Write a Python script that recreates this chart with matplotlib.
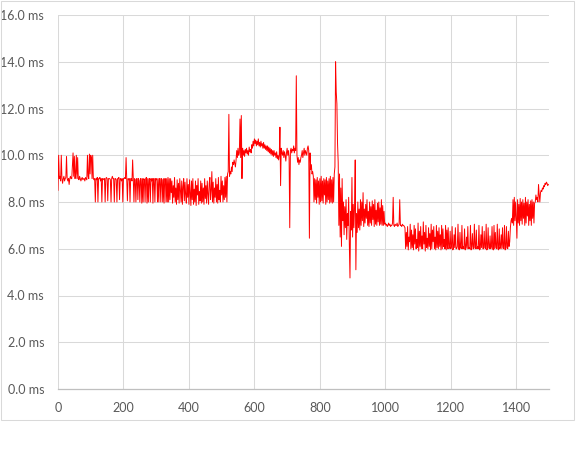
import numpy as np
import matplotlib
matplotlib.use("Agg")
import matplotlib.pyplot as plt
from matplotlib.patches import Rectangle

# ---- data: sample index (step 2) -> latency in ms ----
seg1_start = 0
seg1 = [8.5, 10.0, 9.0, 9.1, 8.9, 10.0, 9.0, 8.8, 9.0, 9.1, 8.9, 9.0, 9.05, 9.95, 9.0, 8.9,
        9.0, 8.75, 9.0, 9.1, 9.0, 9.0, 9.6, 10.1, 9.1, 9.95, 9.0, 9.2, 10.0, 9.0, 9.9, 9.0,
        8.95, 9.1, 9.0, 8.9, 9.0, 9.05, 8.95, 9.0, 9.0, 8.9, 9.05, 9.0, 8.95, 10.0, 9.1, 9.0,
        10.05, 9.2, 10.0, 9.9, 9.0, 10.0, 9.0, 8.95]

seg2_start = 112
seg2 = [9.0, 8.0, 9.0, 8.95, 9.05, 8.0, 9.0, 9.0, 9.05, 8.9, 9.0, 8.0, 9.0, 9.0, 8.95, 9.0,
        8.0, 9.0, 9.05, 9.0, 8.05, 9.0, 9.0, 9.0, 8.95, 8.0, 9.0, 9.1, 9.0, 9.0, 8.0, 9.0,
        9.0, 8.95, 8.0, 9.0, 9.0, 9.05, 8.1, 9.0, 9.0, 8.9, 9.0, 8.0, 9.0, 9.0, 9.05, 9.0,
        9.9, 9.0, 8.05, 9.0, 8.95, 9.0, 8.0, 9.0, 9.0, 8.9, 9.8, 9.0, 8.0, 9.0, 8.95, 8.0,
        9.0, 9.0, 8.1, 9.0, 8.9, 8.0, 9.0, 9.0, 7.95, 9.0, 8.0, 9.0, 8.95, 8.0, 9.0, 9.05,
        7.95, 9.0, 8.0, 9.0, 9.0, 8.0, 9.0, 8.9, 9.0, 7.95, 9.0, 9.0, 8.0, 9.0, 8.95, 9.0,
        8.0, 9.0, 8.0, 9.0, 9.0, 8.0, 9.0, 8.95, 8.0, 9.0, 7.95, 9.0, 9.0, 8.0, 9.0, 8.0,
        9.05, 8.0, 9.0]

seg3_start = 342
seg3 = [8.1, 9.0, 8.4, 8.9, 7.95, 8.7, 8.2, 9.05, 8.0, 8.6, 7.9, 8.95, 8.1, 8.8, 7.95, 9.0,
        8.5, 8.0, 8.9, 7.9, 8.65, 9.0, 8.05, 8.85, 8.3, 7.95, 9.0, 8.2, 8.75, 7.9, 8.95, 8.4,
        7.85, 8.9, 8.1, 9.0, 7.9, 8.55, 8.0, 8.9, 7.85, 8.7, 8.3, 9.0, 7.9, 8.45, 8.05, 8.9,
        7.95, 8.8, 8.0, 8.6, 7.9, 9.0, 8.15, 8.7, 7.95, 8.9, 8.35, 7.9, 8.8, 9.05, 8.1, 8.5,
        9.3, 8.0, 8.85, 7.95, 8.6, 8.2, 9.0, 8.0, 8.75, 7.95, 9.05, 8.1, 8.5, 8.0, 9.1, 8.3,
        8.9, 8.0, 8.7, 8.1, 9.05, 8.2, 9.1, 8.0, 9.2, 9.3]

seg4_start = 522
seg4 = [11.75, 9.1, 9.3, 9.2, 9.5, 9.3, 9.7, 9.6, 9.8, 9.65, 9.5, 9.8, 10.2, 9.9, 10.3, 10.0,
        10.1, 11.55, 9.9, 11.7, 9.0,
        10.3, 10.0, 10.2, 9.95, 10.25, 10.1, 10.3, 10.05, 10.2, 10.0, 10.35, 10.15, 10.25,
        10.1, 10.45, 10.3, 10.6, 10.4, 10.7, 10.5, 10.65, 10.4, 10.6, 10.45, 10.7, 10.4,
        10.55, 10.35, 10.6, 10.4, 10.5, 10.3, 10.55, 10.3, 10.45, 10.25, 10.4, 10.2, 10.4,
        10.15, 10.35, 10.1, 10.3, 10.05, 10.25, 10.0, 10.2, 9.95, 10.2, 10.0, 10.1, 9.9,
        10.15, 9.85, 10.0, 9.8, 10.0,
        11.2, 8.7, 10.3, 10.1, 10.0, 10.2, 9.9, 10.15, 10.0, 9.75, 10.1, 10.3, 10.0, 10.2,
        9.9, 6.9, 10.2, 10.3, 10.1, 10.25, 10.2, 10.4, 10.1, 10.3, 10.2, 13.4, 10.0, 9.7,
        9.9, 9.6, 9.8, 9.7, 9.9, 10.0, 10.2, 9.9, 10.1, 10.3, 10.0, 10.2, 10.1, 10.0, 10.3,
        10.4, 10.2, 6.45, 10.1, 9.4, 9.6, 9.2, 9.3, 9.1]

seg5_start = 782
seg5 = [8.0, 9.0, 8.1, 8.95, 7.95, 9.05, 8.2, 8.9, 7.9, 9.0, 8.0, 9.1, 8.05, 8.9, 7.95, 9.0,
        8.3, 8.95, 7.9, 9.05, 8.0, 8.9, 8.1, 9.0, 7.95, 9.1, 8.0, 8.95, 7.95, 9.05, 8.0, 9.2,
        9.5]

seg6_start = 848
seg6 = [14.0, 12.7, 12.2, 10.5, 9.7, 7.0, 9.2, 6.5, 8.6, 6.1, 9.0, 7.2, 8.0, 6.6, 7.8, 6.9,
        8.1, 6.4, 7.5, 7.0, 8.2, 6.2, 4.75, 7.6, 6.8, 9.05, 6.5, 7.9, 6.9, 7.8, 9.8, 5.1, 7.5,
        6.7, 8.0, 6.9, 7.7, 6.8, 8.1]

seg7_start = 926
seg7 = [7.0, 8.0, 7.2, 8.4, 6.95, 7.7, 7.1, 7.9, 7.3, 8.1, 7.0, 7.6, 6.95, 8.0, 7.1, 7.8,
        7.0, 8.05, 7.25, 7.9, 6.95, 8.1, 7.05, 7.65, 7.0, 7.95, 7.15, 8.0, 7.0, 7.75, 7.05,
        8.1, 7.0, 7.85, 7.0, 7.6, 7.05, 7.1]

seg8_start = 1002
seg8 = [7.0, 7.05, 6.95, 7.0, 7.1, 7.0, 7.05, 6.95, 7.0, 7.0, 7.1, 8.2, 7.0, 6.95, 7.05, 7.0,
        7.0, 7.1, 6.95, 7.0, 7.05, 8.1, 7.0, 7.0, 6.95, 7.05, 7.0, 7.0, 6.95]

seg9_start = 1060
seg9 = [6.9, 6.0, 6.7, 6.1, 6.95, 5.95, 6.5, 6.3, 7.05, 6.0, 6.8, 6.05, 6.6, 5.95, 7.0, 6.2,
        6.85, 6.0, 6.4, 6.05, 7.1, 5.9, 6.75, 6.1, 6.95, 6.0, 6.55, 6.0, 7.15, 6.2, 6.7, 5.9,
        7.0, 6.05, 6.45, 6.0, 6.9, 6.1, 6.65, 5.95, 7.05, 6.0, 6.8, 6.3, 6.95, 6.0, 6.5, 5.95,
        7.0, 6.05, 6.75, 6.0, 6.9, 6.1, 6.6, 5.95, 7.0, 6.0, 6.85, 6.1, 6.4, 6.0, 7.0, 5.95,
        6.8, 6.0]

seg10_start = 1192
seg10 = [6.9, 6.0, 6.05, 6.75, 6.0, 6.1, 6.95, 5.95, 6.0, 6.6, 6.05, 6.9, 6.0, 6.0, 6.1, 7.05,
         6.0, 5.95, 6.7, 6.05, 6.0, 7.0, 6.0, 6.1, 6.0, 6.85, 5.95, 6.05, 6.5, 6.0, 6.95, 6.0,
         6.05, 6.0, 7.0, 5.95, 6.1, 6.65, 6.0, 6.0, 7.05, 6.05, 6.0, 6.8, 6.0, 6.1, 6.0, 7.0,
         5.95, 6.0, 6.6, 6.05, 6.95, 6.0, 6.0, 6.75, 6.05, 6.0, 7.05, 5.95, 6.0, 6.9, 6.05, 6.0,
         6.55, 6.0, 6.1, 6.95, 6.0, 5.95, 7.0, 6.0, 6.7, 6.05, 6.0, 7.05, 6.0, 5.95, 6.85, 6.0,
         6.1, 6.6, 6.0, 6.9, 6.05, 6.0, 7.0, 5.95, 6.0, 6.95, 6.05, 6.0, 6.75, 6.1, 6.3]

seg11_start = 1382
seg11 = [6.9, 7.2, 7.3, 7.1, 8.1, 7.0, 8.2, 7.2, 8.0, 7.3, 6.45, 8.1, 7.1, 7.9, 7.0, 8.15,
         7.2, 8.0, 7.05, 8.1, 7.3, 7.95, 7.0, 8.2, 7.1, 8.0, 7.4, 8.1, 7.0, 7.9, 7.2, 8.05,
         7.0, 8.1, 7.3, 8.0, 7.1, 7.95, 8.0, 8.3, 8.1, 8.2, 8.0, 8.75, 8.3, 8.0, 8.4, 8.5,
         8.45, 8.6, 8.55, 8.7, 8.65, 8.8, 8.75, 8.85, 8.8, 8.7, 8.75]

step = 2
segments = [(seg1_start, seg1), (seg2_start, seg2), (seg3_start, seg3), (seg4_start, seg4),
            (seg5_start, seg5), (seg6_start, seg6), (seg7_start, seg7), (seg8_start, seg8),
            (seg9_start, seg9), (seg10_start, seg10), (seg11_start, seg11)]

xs, ys = [], []
for start, vals in segments:
    xs.extend(start + step * i for i in range(len(vals)))
    ys.extend(vals)
xs = np.array(xs)
ys = np.array(ys)

x_ticks = [0, 200, 400, 600, 800, 1000, 1200, 1400]
y_ticks = [0, 2, 4, 6, 8, 10, 12, 14, 16]

# ---- drawing ----
plt.rcParams['font.family'] = ['Lato', 'DejaVu Sans']
W, H = 576, 450
fig = plt.figure(figsize=(W / 100, H / 100), dpi=100)
fig.patch.set_facecolor('white')

# outer chart border
fig.patches.append(Rectangle((0.5 / W, 1 - 419.5 / H), 573.5 / W, 419 / H,
                             transform=fig.transFigure, fill=False,
                             edgecolor='#D9D9D9', linewidth=0.75))

ax = fig.add_axes([58 / W, 1 - 389 / H, (549 - 58) / W, (389 - 15) / H])
ax.plot(xs, ys, color='#FF0000', linewidth=0.7)

ax.set_xlim(0, 1500)
ax.set_ylim(0, 16)
ax.set_xticks(x_ticks)
ax.set_yticks(y_ticks)
ax.set_yticklabels([f"{v:.1f} ms" for v in y_ticks])
ax.set_xticklabels([str(v) for v in x_ticks])
ax.grid(True, color='#D9D9D9', linewidth=0.75)
ax.set_axisbelow(True)
for s in ['top', 'right', 'left']:
    ax.spines[s].set_visible(False)
ax.spines['bottom'].set_color('#BFBFBF')
ax.spines['bottom'].set_linewidth(0.9)
ax.tick_params(length=0, labelsize=9, colors='#595959', pad=9)
ax.tick_params(axis='y', pad=10)

fig.savefig('out.png', dpi=100, facecolor='white')
